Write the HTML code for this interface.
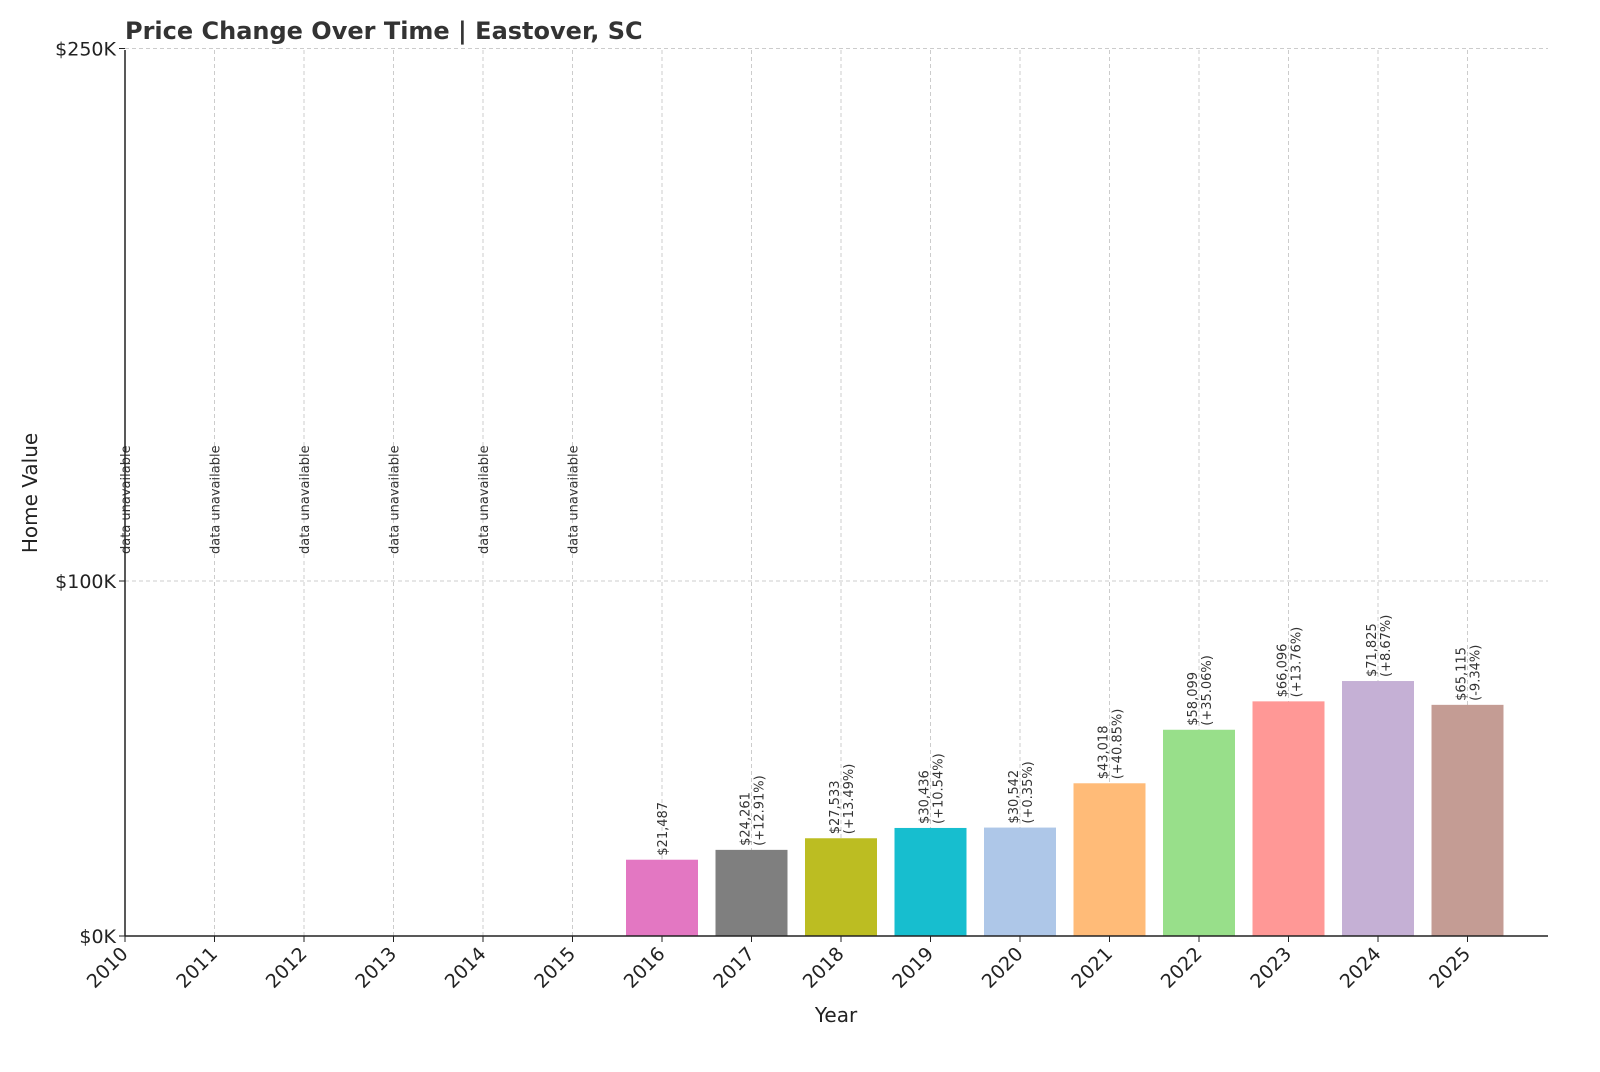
<!DOCTYPE html>
<html><head><meta charset="utf-8"><style>
body{margin:0;background:#fff;}
svg{font-family:"DejaVu Sans","Liberation Sans",sans-serif;}
</style></head><body>
<svg id="chart" width="1600" height="1067" xmlns="http://www.w3.org/2000/svg">
<text x="125" y="39" font-size="24" font-weight="bold" fill="#333">Price Change Over Time | Eastover, SC</text>
<text transform="translate(37,493) rotate(-90)" text-anchor="middle" font-size="20" fill="#222">Home Value</text>
<text x="836" y="1022" text-anchor="middle" font-size="20" fill="#222">Year</text>
<g id="grid"></g><g id="bars"></g><g id="labels"></g><g id="axes"></g>
</svg>
<script>
const years=[2010,2011,2012,2013,2014,2015,2016,2017,2018,2019,2020,2021,2022,2023,2024,2025];
const values=[null,null,null,null,null,null,21487,24261,27533,30436,30542,43018,58099,66096,71825,65115];
const changes=[null,null,null,null,null,null,null,"+12.91%","+13.49%","+10.54%","+0.35%","+40.85%","+35.06%","+13.76%","+8.67%","-9.34%"];
const colors=["#1f77b4","#ff7f0e","#2ca02c","#d62728","#9467bd","#8c564b","#e377c2","#7f7f7f","#bcbd22","#17becf","#aec7e8","#ffbb78","#98df8a","#ff9896","#c5b0d5","#c49c94"];
const yTicks=[0,100000,250000];
const yTickLabels=["$0K","$100K","$250K"];
const NS="http://www.w3.org/2000/svg";
const x=y=>125+(y-2010)*89.5;
const yS=v=>936-v*0.00355;
function mk(tag,attrs,parent,txt){const e=document.createElementNS(NS,tag);for(const k in attrs)e.setAttribute(k,attrs[k]);if(txt!=null)e.textContent=txt;document.getElementById(parent).appendChild(e);return e;}
yTicks.forEach((t,i)=>{
 const g=mk('line',{x1:125,x2:1548,y1:yS(t),y2:yS(t),stroke:'#ccc','stroke-dasharray':'4,3'},'grid');
 
 
 const tk=mk('line',{x1:119,x2:125,y1:yS(t),y2:yS(t),stroke:'#222'},'axes');
 
 
 const l=mk('text',{x:116,y:yS(t)+7,'text-anchor':'end','font-size':19,fill:'#222'},'axes',yTickLabels[i]);
 
 
});
years.forEach((yr,i)=>{
 const cx=x(yr);
 const g=mk('line',{x1:cx,x2:cx,y1:50,y2:936,stroke:'#ccc','stroke-dasharray':'4,3'},'grid');
 
 
 const tk=mk('line',{x1:cx,x2:cx,y1:936,y2:942,stroke:'#222'},'axes');
 
 
 const tl=mk('text',{transform:`translate(${cx+4},${955}) rotate(-45)`,'text-anchor':'end','font-size':19,fill:'#222'},'axes',String(yr));
 
 
 const v=values[i];
 if(v==null){
  const t=mk('text',{transform:`translate(${cx+5},554) rotate(-90)`,'font-size':13,fill:'#333'},'labels','data unavailable');
  
  
  return;
 }
 const b=mk('rect',{x:cx-36,y:yS(v),width:72,height:936-yS(v),fill:colors[i]},'bars');
 
 
 const top=yS(v)-4;
 const vs='$'+v.toLocaleString('en-US');
 if(changes[i]==null){
  const t=mk('text',{transform:`translate(${cx+5},${top}) rotate(-90)`,'font-size':13,fill:'#333'},'labels',vs);
  
  
 } else {
  const t=mk('text',{transform:`translate(${cx-2},${top}) rotate(-90)`,'font-size':13,fill:'#333'},'labels',vs);
  
  
  const p=mk('text',{transform:`translate(${cx+12},${top}) rotate(-90)`,'font-size':13,fill:'#333'},'labels','('+changes[i]+')');
  
  
 }
});
const ax1=mk('line',{x1:125,x2:125,y1:50,y2:936,stroke:'#222','stroke-width':1.5},'axes');


const ax2=mk('line',{x1:125,x2:1548,y1:936,y2:936,stroke:'#222','stroke-width':1.5},'axes');


</script>
</body></html>
